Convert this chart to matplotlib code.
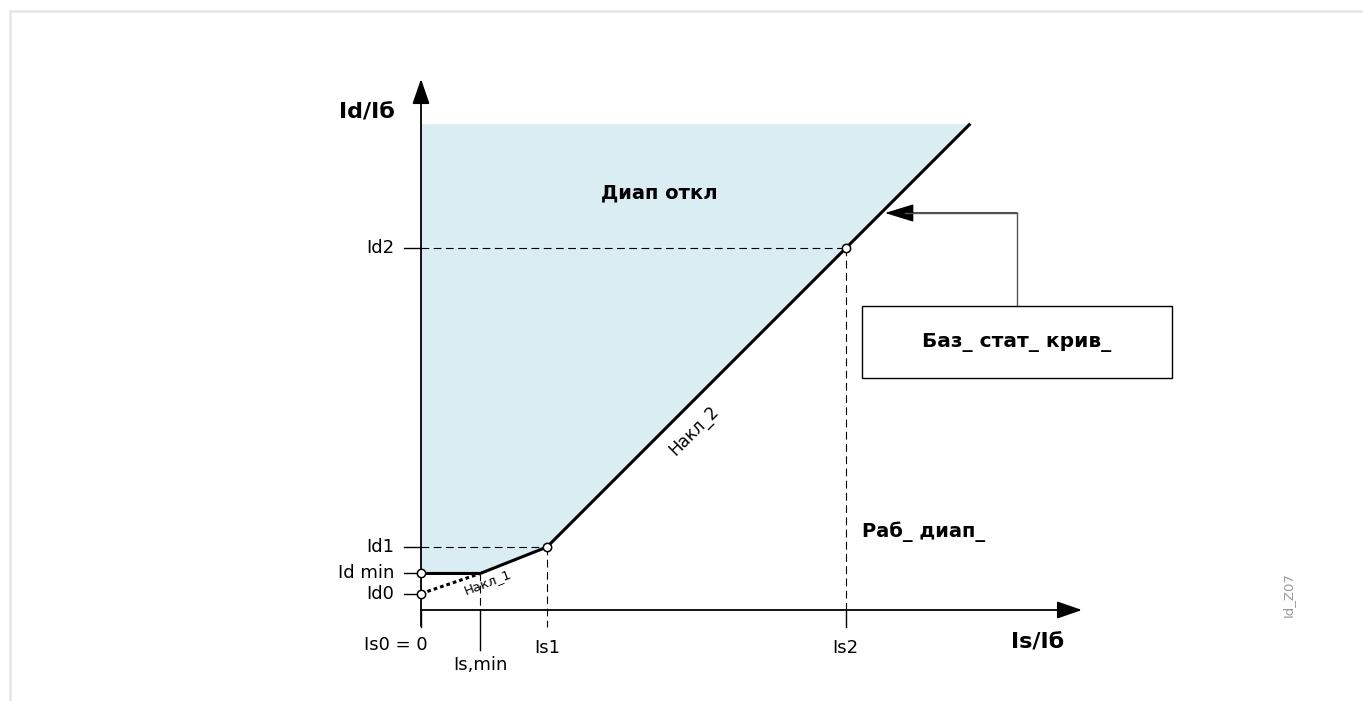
import matplotlib
matplotlib.use("Agg")
import matplotlib.pyplot as plt
from matplotlib.lines import Line2D
from matplotlib.patches import Rectangle

# values of the characteristic (units: Is1 = 1)
is_labels = ["Is0 = 0", "Is,min", "Is1", "Is2"]
is_values = [0.0, 0.47, 1.0, 3.37]
id_labels = ["Id0", "Id min", "Id1", "Id2"]
id_values = [0.13, 0.29, 0.5, 2.87]

curve_is = [0.0, 0.47, 1.0, 4.36]
curve_id = [0.29, 0.29, 0.5, 3.86]
slope1_is = [0.0, 0.47]
slope1_id = [0.13, 0.29]
top_id = 3.86

# layout: pixel -> data units
S = 126.0
OX, OY = 421, 610
W, H = 1363, 701


def P(px, py):
    return ((px - OX) / S, (OY - py) / S)


fig = plt.figure(figsize=(W / 100, H / 100), dpi=100)
ax = fig.add_axes([0, 0, 1, 1])
ax.set_xlim(-OX / S, (W - OX) / S)
ax.set_ylim(-(H - OY) / S, OY / S)
ax.axis("off")

# light frame
fig.add_artist(Line2D([10 / W, 1], [1 - 11 / H, 1 - 11 / H], color="#e6e6e6", lw=1.8))
fig.add_artist(Line2D([10 / W, 10 / W], [0, 1 - 11 / H], color="#e6e6e6", lw=1.8))

# tripping zone
ax.fill_between(curve_is, curve_id, top_id, color="#daedf3", lw=0, zorder=1)

# axes with arrows
arr = dict(arrowstyle="-|>,head_length=1.1,head_width=0.38", mutation_scale=14,
           lw=1.3, color="black", shrinkA=0, shrinkB=0)
ax.annotate("", xy=P(421, 79), xytext=P(421, 626), arrowprops=arr, zorder=5)
ax.annotate("", xy=P(1082, 610), xytext=P(421, 610), arrowprops=arr, zorder=5)

tick = 17 / S
dash = dict(color="black", lw=0.8, ls=(0, (7, 4)), zorder=2)
# y ticks and labels
for lab, v in zip(id_labels, id_values):
    ax.plot([-tick, 0], [v, v], color="black", lw=1.0, zorder=3)
    ax.text(-27 / S, v, lab, ha="right", va="center", fontsize=13)
for v, x in [(id_values[2], is_values[2]), (id_values[3], is_values[3])]:
    ax.plot([0, x], [v, v], **dash)

# x ticks and labels
ax.plot([0, 0], [0, -tick], color="black", lw=1.0)
ax.plot([is_values[1], is_values[1]], [0, -40 / S], color="black", lw=1.0)
ax.plot([is_values[1], is_values[1]], [id_values[1], 0], **dash)
ax.plot([is_values[2], is_values[2]], [id_values[2], -tick], **dash)
ax.plot([is_values[3], is_values[3]], [id_values[3], 0], **dash)
ax.plot([is_values[3], is_values[3]], [0, -tick], color="black", lw=1.0)

label_y = [645, 665, 648, 648]
label_dx = [-25, 0, 0, 0]
for lab, v, py, dx in zip(is_labels, is_values, label_y, label_dx):
    ax.text(v + dx / S, P(0, py)[1], lab, ha="center", va="center", fontsize=13)

# characteristic
ax.plot(slope1_is, slope1_id, color="black", lw=2.2, ls=(0, (1.2, 1.0)), zorder=4)
ax.plot(curve_is, curve_id, color="black", lw=2.2, zorder=4, solid_capstyle="butt")
ax.plot([0, 0, is_values[2], is_values[3]],
        [id_values[0], id_values[1], id_values[2], id_values[3]],
        ls="", marker="o", ms=6, mfc="white", mec="black", mew=1.1, zorder=6)

# texts
ax.text(*P(367, 112), "Id/Iб", ha="center", va="center", fontsize=16, fontweight="bold")
ax.text(*P(1038, 643), "Is/Iб", ha="center", va="center", fontsize=16, fontweight="bold")
ax.text(*P(659, 193), "Диап откл", ha="center", va="center", fontsize=14, fontweight="bold")
ax.text(*P(862, 532), "Раб_ диап_", ha="left", va="center", fontsize=14, fontweight="bold")
ax.text(*P(694, 431), "Накл_2", ha="center", va="center", fontsize=12, rotation=45)
ax.text(*P(488, 582), "Накл_1", ha="center", va="center", fontsize=9.5, rotation=21)
ax.text(*P(1288, 595), "Id_Z07", ha="center", va="center", fontsize=9.5, rotation=90, color="#9a9a9a")

# callout box
x0, y0 = P(862, 378)
x1, y1 = P(1172, 306)
ax.add_patch(Rectangle((x0, y0), x1 - x0, y1 - y0, fill=False, ec="black", lw=1.0, zorder=5))
ax.text((x0 + x1) / 2, (y0 + y1) / 2, "Баз_ стат_ крив_", ha="center", va="center",
        fontsize=14.5, fontweight="bold")
ax.plot([P(1017, 0)[0]] * 2, [y1, P(0, 213)[1]], color="#555555", lw=1.0)
ax.annotate("", xy=P(885, 213), xytext=P(1017, 213),
            arrowprops=dict(arrowstyle="-|>,head_length=1.3,head_width=0.4", mutation_scale=14,
                            lw=1.0, color="black", shrinkA=0, shrinkB=0))
ax.plot([P(1017, 0)[0], P(905, 0)[0]], [P(0, 213)[1]] * 2, color="#555555", lw=1.0, zorder=6)

fig.savefig("out.png", dpi=100)
